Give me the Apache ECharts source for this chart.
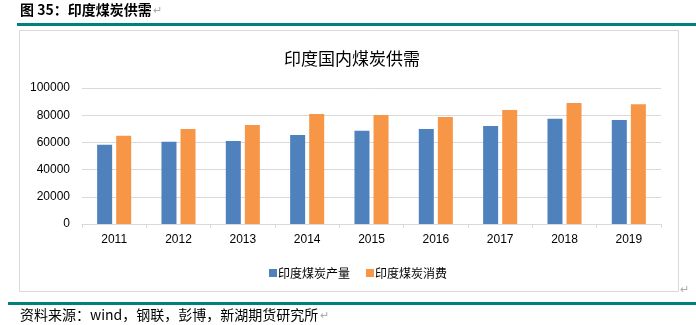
<!DOCTYPE html>
<html><head><meta charset="utf-8">
<script src="https://cdn.jsdelivr.net/npm/echarts@6/dist/echarts.min.js"></script>
<style>html,body{margin:0;padding:0;background:#fff}#c{width:696px;height:325px}</style>
</head><body><div id="c"></div>
<script>
const categories = ['2011','2012','2013','2014','2015','2016','2017','2018','2019'];
const production = [58200, 60400, 61100, 65500, 68500, 69900, 72100, 77300, 76500];
const consumption = [64800, 69900, 72800, 80900, 80200, 78700, 83900, 88900, 88100];
const yTicks = [0, 20000, 40000, 60000, 80000, 100000];
const seriesNames = ['印度煤炭产量', '印度煤炭消费'];

const chart = echarts.init(document.getElementById('c'));
const cjk = '"Noto Sans CJK SC", "Microsoft YaHei", sans-serif';
chart.setOption({
  animation: false,
  title: {
    text: '印度国内煤炭供需', left: 347, top: 45, textAlign: 'center',
    textStyle: { fontFamily: cjk, fontSize: 17, fontWeight: 'normal', color: '#000' }
  },
  legend: {
    data: seriesNames, left: 264, top: 262, itemWidth: 8, itemHeight: 8, itemGap: 16,
    icon: 'rect', textStyle: { fontFamily: cjk, fontSize: 12, color: '#000', padding: [0,0,0,-4] }
  },
  grid: { left: 82, right: 35, top: 88, bottom: 101 },
  xAxis: {
    type: 'category', data: categories,
    axisLine: { lineStyle: { color: '#d9d9d9' } },
    axisTick: { show: true, length: 4, lineStyle: { color: '#d9d9d9' } },
    axisLabel: { color: '#000', fontSize: 12, fontFamily: 'Liberation Sans, Arial, sans-serif', margin: 10 }
  },
  yAxis: {
    type: 'value', min: yTicks[0], max: yTicks[yTicks.length-1], interval: 20000,
    axisLine: { show: false }, axisTick: { show: false },
    splitLine: { lineStyle: { color: '#d9d9d9' } },
    axisLabel: { color: '#000', fontSize: 12, fontFamily: 'Liberation Sans, Arial, sans-serif', margin: 12, formatter: v => String(v) }
  },
  series: [
    { name: seriesNames[0], type: 'bar', data: production, barWidth: 15, barGap: '27%', itemStyle: { color: '#4f81bd' } },
    { name: seriesNames[1], type: 'bar', data: consumption, barWidth: 15, itemStyle: { color: '#f79646' } }
  ],
  graphic: [
    { type: 'text', left: 20, top: 3, style: { text: '图 35：印度煤炭供需', font: 'bold 14px "Noto Sans CJK SC", sans-serif', fill: '#000' } },
    { type: 'text', left: 153, top: 5, style: { text: '↵', font: '11px sans-serif', fill: '#aaa' } },
    { type: 'rect', shape: { x: 17, y: 23, width: 679, height: 3 }, style: { fill: '#00827c' } },
    { type: 'rect', shape: { x: 19.5, y: 30.5, width: 659, height: 261 }, style: { fill: 'none', stroke: '#d9d9d9', lineWidth: 1 } },
    { type: 'text', left: 680, top: 284, style: { text: '↵', font: '11px sans-serif', fill: '#aaa' } },
    { type: 'rect', shape: { x: 8, y: 302, width: 688, height: 3 }, style: { fill: '#00827c' } },
    { type: 'text', left: 20, top: 308, style: { text: '资料来源：wind，钢联，彭博，新湖期货研究所', font: '14px "Noto Sans CJK SC", monospace', fill: '#000' } },
    { type: 'text', left: 320, top: 310, style: { text: '↵', font: '11px sans-serif', fill: '#aaa' } }
  ]
});
</script></body></html>
